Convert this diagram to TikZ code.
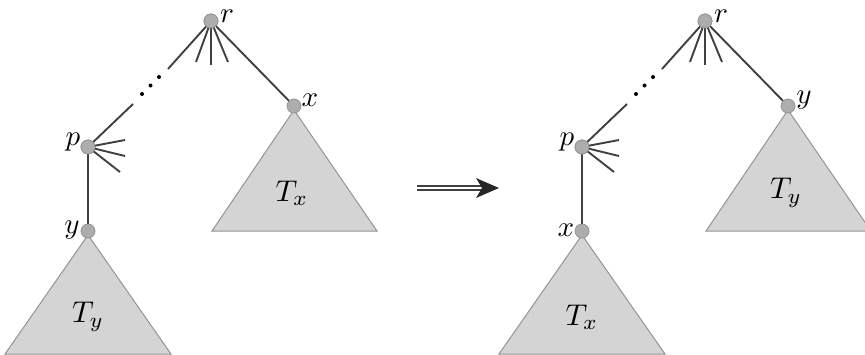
\documentclass[tikz,border=0pt]{standalone}
\usetikzlibrary{arrows.meta}
\begin{document}
\begin{tikzpicture}[x=1pt,y=-1pt,
  vert/.style={circle,fill=black!32,draw=black!42,line width=0.8pt,minimum size=14pt,inner sep=0pt},
  edge/.style={draw=black!75,line width=1.9pt},
  subtree/.style={fill=black!17,draw=black!42,line width=1pt},
  lbl/.style={scale=2.9,inner sep=0pt},
  tl/.style={scale=3.0,inner sep=0pt}]
\useasboundingbox (0,0) rectangle (865,354);
\foreach \o/\a/\b/\sa/\sb in {0/x/y/x/y, 494/y/x/y/x}{
  \begin{scope}[xshift=\o]
  % subtrees
  \path[subtree] (294,110) -- (377,231) -- (212,231) -- cycle;
  \path[subtree] (88,235) -- (171,354) -- (5,354) -- cycle;
  \node[tl] at (292,193) {$T_{\sa}$};
  \node[tl] at (88,317) {$T_{\sb}$};
  % nodes
  \node[vert] (r\o) at (211,21) {};
  \node[vert] (n\o) at (294,106) {};
  \node[vert] (p\o) at (88,147) {};
  \node[vert] (m\o) at (88,231) {};
  \coordinate (d1\o) at (168,69);
  \coordinate (d2\o) at (133,104);
  \coordinate (f1\o) at (196,62);
  \coordinate (f2\o) at (211,65);
  \coordinate (f3\o) at (228,62);
  \coordinate (g1\o) at (125,140);
  \coordinate (g2\o) at (125,156);
  \coordinate (g3\o) at (120,172);
  \draw[edge] (r\o.center) -- (n\o);
  \draw[edge] (r\o.center) -- (d1\o);
  \draw[edge] (d2\o) -- (p\o.center);
  \draw[edge] (p\o) -- (m\o);
  \foreach \f in {f1,f2,f3} \draw[edge] (r\o.center) -- (\f\o);
  \foreach \g in {g1,g2,g3} \draw[edge] (p\o.center) -- (\g\o);
  \node[vert] at (r\o) {};
  \node[vert] at (p\o) {};
  \foreach \q in {0,1,2} \fill (159-\q*8.5,77+\q*8.5) circle (2pt);
  \node[lbl] at (227,16) {$r$};
  \node[lbl] at (73,142) {$p$};
  \end{scope}}
\node[lbl] at (310,100) {$x$};
\node[lbl] at (72,230) {$y$};
\node[lbl] at (804,100) {$y$};
\node[lbl] at (566,230) {$x$};
% arrow
\coordinate (a1) at (417,188);
\coordinate (a2) at (488,188);
\coordinate (a3) at (499,188);
\draw[black!75,line width=1.7pt,double=white,double distance=2.2pt] (a1) -- (a2);
\fill[black!85] (a3) -- (476,178) -- (482,188) -- (476,198) -- cycle;
\end{tikzpicture}
\end{document}
